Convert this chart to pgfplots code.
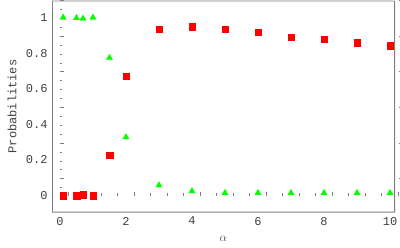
\documentclass[border=0pt]{standalone}
\usepackage{pgfplots}
\pgfplotsset{compat=1.18}
\usepackage{fontspec}
\setmainfont{Liberation Mono}
\definecolor{framegray}{gray}{0.5}
\definecolor{textgray}{gray}{0.25}
\begin{document}
\begin{tikzpicture}
\begin{axis}[
  at={(0,0)}, anchor=south west,
  scale only axis,
  width=343bp, height=212bp,
  xmin=-0.24, xmax=10.15,
  ymin=-0.095, ymax=1.095,
  xtick={0,2,4,6,8,10},
  ytick={0,0.2,0.4,0.6,0.8,1},
  yticklabels={0,0.2,0.4,0.6,0.8,1},
  tick align=inside,
  axis line style={draw=none},
  tick style={draw=none},
  tick label style={font=\fontsize{12bp}{14bp}\selectfont, text=textgray},
  /pgf/number format/assume math mode=true,
  xticklabel style={yshift=-1bp},
  yticklabel style={xshift=-1bp},
  xlabel={$\alpha$},
  every axis x label/.style={at={(axis description cs:0.5,0)}, anchor=center, yshift=-26bp, font=\fontsize{13bp}{15bp}\selectfont, text=textgray},
  clip=false,
]
\fill[framegray, even odd rule] (rel axis cs:0,0) rectangle (rel axis cs:1,1)
  ([shift={(0.8bp,0.8bp)}]rel axis cs:0,0) rectangle ([shift={(-0.8bp,-0.8bp)}]rel axis cs:1,1);
\pgfplotsinvokeforeach{0,2,4,6,8,10}{
  \fill[framegray] (axis cs:#1,-0.095) ++(-0.3bp,0) rectangle ++(0.6bp,4bp);
  \fill[framegray] (axis cs:#1,1.095) ++(-0.3bp,0) rectangle ++(0.6bp,-4bp);
}
\pgfplotsinvokeforeach{0.5,1,1.5,2.5,3,3.5,4.5,5,5.5,6.5,7,7.5,8.5,9,9.5}{
  \fill[framegray] (axis cs:#1,-0.095) ++(-0.3bp,0) rectangle ++(0.6bp,2.5bp);
  \fill[framegray] (axis cs:#1,1.095) ++(-0.3bp,0) rectangle ++(0.6bp,-2.5bp);
}
\pgfplotsinvokeforeach{0,0.2,0.4,0.6,0.8,1}{
  \fill[framegray] (axis cs:-0.24,#1) ++(0,-0.3bp) rectangle ++(4bp,0.6bp);
  \fill[framegray] (axis cs:10.15,#1) ++(0,-0.3bp) rectangle ++(-4bp,0.6bp);
}
\pgfplotsinvokeforeach{-0.05,0.05,0.1,0.15,0.25,0.3,0.35,0.45,0.5,0.55,0.65,0.7,0.75,0.85,0.9,0.95,1.05}{
  \fill[framegray] (axis cs:-0.24,#1) ++(0,-0.3bp) rectangle ++(2.5bp,0.6bp);
  \fill[framegray] (axis cs:10.15,#1) ++(0,-0.3bp) rectangle ++(-2.5bp,0.6bp);
}
\addplot[only marks, mark=square*, mark size=3.2bp, draw=red, fill=red, mark options={draw=red, fill=red, line width=0.2pt}] coordinates {
(0.1,0.0) (0.5,0.0) (0.7,0.006) (1,0.0) (1.5,0.226) (2,0.672) (3,0.933) (4,0.949)
(5,0.934) (6,0.916) (7,0.891) (8,0.878) (9,0.858) (10,0.841)
};
\addplot[only marks, mark=triangle*, mark size=3.7bp, draw=green, fill=green, mark options={draw=green, fill=green, line width=0.2pt}] coordinates {
(0.1,1.0) (0.5,0.997) (0.7,0.994) (1,1.0) (1.5,0.773) (2,0.328) (3,0.058) (4,0.025)
(5,0.015) (6,0.015) (7,0.015) (8,0.015) (9,0.015) (10,0.015)
};
\end{axis}
\node[rotate=90, anchor=center, font=\fontsize{12bp}{14bp}\selectfont, text=textgray] at (-40bp,106bp) {Probabilities};
\pgfresetboundingbox
\path[use as bounding box] (-52bp,-35bp) rectangle (348bp,212.5bp);
\end{tikzpicture}
\end{document}
